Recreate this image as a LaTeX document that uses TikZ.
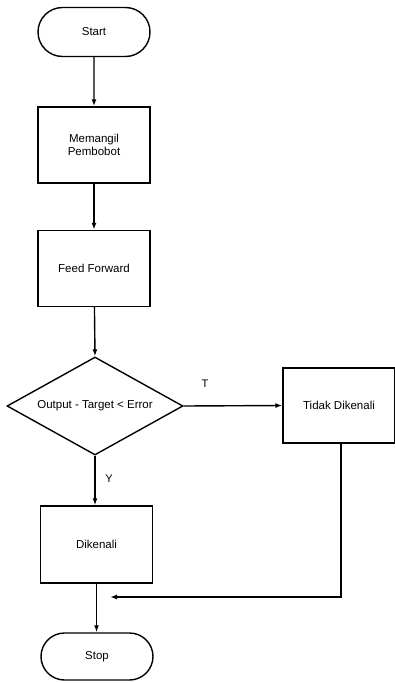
\documentclass[tikz,border=0pt]{standalone}
\usepackage{fontspec}
\setmainfont{Liberation Sans}
\usetikzlibrary{shapes.misc,shapes.geometric,arrows.meta}
\begin{document}
\begin{tikzpicture}[x=1pt,y=-1pt,
  every node/.style={font=\fontsize{11.5}{13.5}\selectfont},
  term/.style={draw,rounded rectangle,line width=1.4pt,minimum width=112pt,minimum height=49pt,inner sep=0pt},
  proc/.style={draw,rectangle,line width=1.4pt,minimum width=112pt,minimum height=76pt,inner sep=0pt,align=center},
  dec/.style={draw,diamond,line width=1.4pt,minimum width=176pt,minimum height=98pt,inner sep=0pt,aspect=1.8},
  conn/.style={line width=1.4pt,-{Latex[length=7pt,width=5pt]}},
  lbl/.style={font=\fontsize{11}{13}\selectfont}]
\useasboundingbox (0,0) rectangle (394,683);
\node[term] (start) at (94,32) {Start};
\node[proc] (mem) at (94,145) {Memangil\\Pembobot};
\node[proc] (ff) at (94,268.5) {Feed Forward};
\node[dec] (d) at (95,406) {Output - Target < Error};
\node[proc,minimum height=75pt] (tidak) at (339,405.5) {Tidak Dikenali};
\node[proc,minimum height=77pt] (dik) at (96.5,544.5) {Dikenali};
\node[term,minimum height=47pt] (stop) at (97,656.5) {Stop};
\node[lbl] (tl) at (205,384) {T};
\node[lbl] (yl) at (109,479) {Y};
\coordinate (corner) at (341,597);
\coordinate (ret) at (110,597);
\draw[conn] (start) -- (mem);
\draw[conn] (mem) -- (ff);
\draw[conn] (ff) -- (d.north);
\draw[conn] (d.east) -- (tidak.west);
\draw[conn] (d.south) -- (dik.north -| d.south);
\draw[conn] (dik.south) -- (stop.north -| dik.south);
\draw[conn] (tidak.south -| corner) -- (corner) -- (ret);
\end{tikzpicture}
\end{document}
